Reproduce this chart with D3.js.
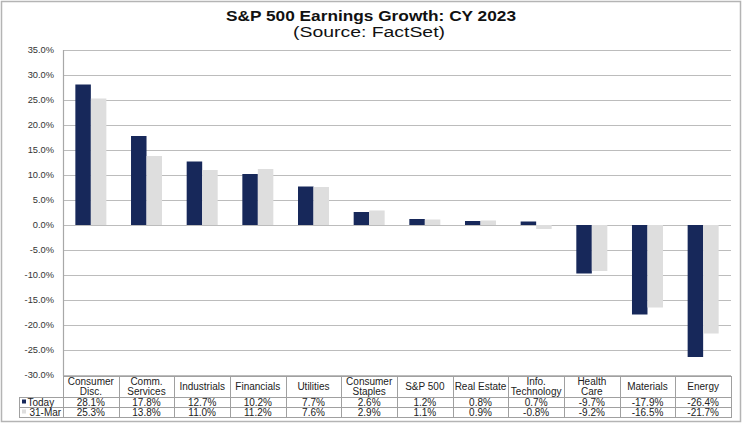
<!DOCTYPE html>
<html><head><meta charset="utf-8">
<script src="https://cdn.jsdelivr.net/npm/d3@7/dist/d3.min.js"></script>
<style>html,body{margin:0;padding:0;background:#fff;}svg{display:block;font-family:Arial,"Liberation Sans",sans-serif;}</style>
</head><body>
<script>
const categories = ["Consumer Disc.","Comm. Services","Industrials","Financials","Utilities","Consumer Staples","S&P 500","Real Estate","Info. Technology","Health Care","Materials","Energy"];
const categoryLines = [["Consumer","Disc."],["Comm.","Services"],["Industrials"],["Financials"],["Utilities"],["Consumer","Staples"],["S&P 500"],["Real Estate"],["Info.","Technology"],["Health","Care"],["Materials"],["Energy"]];
const seriesNames = ["Today","31-Mar"];
const today = [28.1,17.8,12.7,10.2,7.7,2.6,1.2,0.8,0.7,-9.7,-17.9,-26.4];
const mar31 = [25.3,13.8,11.0,11.2,7.6,2.9,1.1,0.9,-0.8,-9.2,-16.5,-21.7];
const yTicks = [35,30,25,20,15,10,5,0,-5,-10,-15,-20,-25,-30];
const colors = ["#17285a","#dedede"];

const W=743,H=424;
const svg=d3.select("body").append("svg").attr("width",W).attr("height",H);
const L=63,R=731,T=50,B=375;

// outer border
svg.append("rect").attr("x",1.5).attr("y",1.5).attr("width",739).attr("height",420).attr("fill","none").attr("stroke","#b4b4b4").attr("stroke-width",1.5);

// title
svg.append("text").attr("x",371).attr("y",21).attr("text-anchor","middle").attr("font-weight","bold").attr("font-size",15.5).attr("fill","#111").attr("textLength",290).attr("lengthAdjust","spacingAndGlyphs").text("S&P 500 Earnings Growth: CY 2023");
svg.append("text").attr("x",369).attr("y",36.5).attr("text-anchor","middle").attr("font-size",14).attr("fill","#111").attr("textLength",152).attr("lengthAdjust","spacingAndGlyphs").text("(Source: FactSet)");

const y=d3.scaleLinear().domain([-30,35]).range([B,T]);
const x=d3.scaleBand().domain(categories).range([L,R]).paddingInner(0.443).paddingOuter(0.222);
const xs=d3.scaleBand().domain(seriesNames).range([0,x.bandwidth()]);
const xc=d3.scaleBand().domain(categories).range([L,R]).padding(0);

// gridlines
svg.append("g").selectAll("line").data(yTicks).join("line")
  .attr("x1",L).attr("x2",R).attr("y1",d=>Math.round(y(d))+0.5).attr("y2",d=>Math.round(y(d))+0.5)
  .attr("stroke","#bcbcbc").attr("stroke-width",1.2);
// y axis line
svg.append("line").attr("x1",L+0.5).attr("x2",L+0.5).attr("y1",T).attr("y2",B+1).attr("stroke","#a8a8a8").attr("stroke-width",1.2);
// y labels
svg.append("g").selectAll("text").data(yTicks).join("text")
  .attr("x",54).attr("y",d=>y(d)+3.2).attr("text-anchor","end").attr("font-size",9.3).attr("fill","#333")
  .text(d=>d.toFixed(1)+"%");

// bars
const series=[today,mar31];
series.forEach((vals,si)=>{
  svg.append("g").selectAll("rect").data(vals).join("rect")
    .attr("x",(d,i)=>x(categories[i])+xs(seriesNames[si]))
    .attr("width",xs.bandwidth())
    .attr("y",d=>y(Math.max(0,d)))
    .attr("height",d=>Math.abs(y(d)-y(0)))
    .attr("fill",colors[si]);
});

// table
const tTop=376,r1=397,r2=407,r3=417,legL=19;
const tg=svg.append("g").attr("stroke","#a0a0a0").attr("stroke-width",1);
tg.append("line").attr("x1",L).attr("x2",R).attr("y1",tTop+0.5).attr("y2",tTop+0.5);
[r1,r2,r3].forEach(yy=>tg.append("line").attr("x1",legL).attr("x2",R).attr("y1",yy+0.5).attr("y2",yy+0.5));
tg.append("line").attr("x1",legL+0.5).attr("x2",legL+0.5).attr("y1",r1).attr("y2",r3+1);
categories.forEach(c=>{
  tg.append("line").attr("x1",Math.round(xc(c))+0.5).attr("x2",Math.round(xc(c))+0.5).attr("y1",tTop).attr("y2",r3+1);
});
tg.append("line").attr("x1",R+0.5).attr("x2",R+0.5).attr("y1",tTop).attr("y2",r3+1);

const tt=svg.append("g").attr("font-size",10).attr("fill","#222").attr("text-anchor","middle");
categories.forEach((c,i)=>{
  const cx=xc(c)+xc.bandwidth()/2;
  const lines=categoryLines[i];
  if(lines.length===1){
    tt.append("text").attr("x",cx).attr("y",390).text(lines[0]);
  } else {
    tt.append("text").attr("x",cx).attr("y",385).text(lines[0]);
    tt.append("text").attr("x",cx).attr("y",395).text(lines[1]);
  }
  tt.append("text").attr("x",cx).attr("y",405.8).text(today[i].toFixed(1)+"%");
  tt.append("text").attr("x",cx).attr("y",415.8).text(mar31[i].toFixed(1)+"%");
});
// legend cells
svg.append("rect").attr("x",22).attr("y",399.5).attr("width",4).attr("height",4).attr("fill",colors[0]);
svg.append("rect").attr("x",22).attr("y",409.5).attr("width",4).attr("height",4).attr("fill",colors[1]);
svg.append("text").attr("x",27.5).attr("y",405.8).attr("font-size",10).attr("fill","#222").text(seriesNames[0]);
svg.append("text").attr("x",29.5).attr("y",415.8).attr("font-size",10).attr("fill","#222").text(seriesNames[1]);
</script>
</body></html>
